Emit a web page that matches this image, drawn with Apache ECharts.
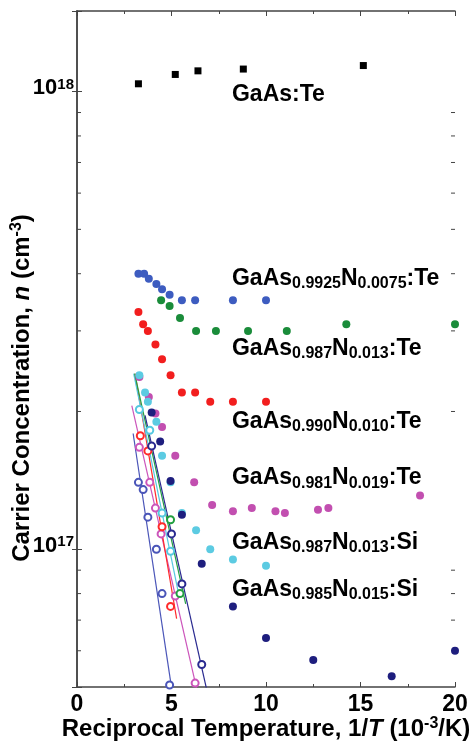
<!DOCTYPE html>
<html>
<head>
<meta charset="utf-8">
<script src="https://cdn.jsdelivr.net/npm/echarts@6/dist/echarts.min.js"></script>
<style>
  html, body { margin: 0; padding: 0; background: #fff; }
  #main { width: 473px; height: 744px; }
</style>
</head>
<body>
<div id="main"></div>
<script>
// GaAs:Te (squares)
const gaasTeX = [3.25, 5.2, 6.4, 8.8, 15.15];
const gaasTeY = [1.04e18, 1.09e18, 1.11e18, 1.12e18, 1.14e18];

// filled points, Hall data
const n0075TeX = [3.25, 3.55, 3.8, 4.2, 4.5, 4.9, 5.55, 6.25, 8.25, 10.0];
const n0075TeY = [4.0e17, 4.0e17, 3.9e17, 3.8e17, 3.7e17, 3.6e17, 3.5e17, 3.5e17, 3.5e17, 3.5e17];
const n013TeX = [4.45, 4.9, 5.45, 6.3, 7.35, 9.05, 11.1, 14.25, 20.0];
const n013TeY = [3.5e17, 3.4e17, 3.2e17, 3.0e17, 3.0e17, 3.0e17, 3.0e17, 3.1e17, 3.1e17];
const n010TeX = [3.25, 3.5, 3.75, 4.15, 4.5, 4.95, 5.55, 6.25, 7.05, 8.25, 10.0];
const n010TeY = [3.3e17, 3.1e17, 3.0e17, 2.8e17, 2.6e17, 2.4e17, 2.2e17, 2.2e17, 2.1e17, 2.1e17, 2.1e17];
const n019TeX = [3.3, 3.8, 4.15, 4.5, 5.2, 6.2, 7.15, 8.25, 9.25, 10.5, 11.0, 12.75, 13.3, 18.15];
const n019TeY = [2.38e17, 2.15e17, 1.98e17, 1.85e17, 1.6e17, 1.4e17, 1.25e17, 1.21e17, 1.23e17, 1.21e17, 1.2e17, 1.22e17, 1.23e17, 1.31e17];
const n013SiX = [3.3, 3.6, 3.75, 4.2, 4.5, 4.95, 5.55, 6.3, 7.05, 8.25, 10.0];
const n013SiY = [2.4e17, 2.2e17, 2.1e17, 1.9e17, 1.6e17, 1.4e17, 1.2e17, 1.1e17, 1.0e17, 0.95e17, 0.92e17];
const n015SiX = [3.95, 4.4, 4.95, 5.55, 6.6, 8.25, 10.0, 12.5, 16.65, 20.0];
const n015SiY = [1.99e17, 1.72e17, 1.41e17, 1.19e17, 0.93e17, 0.75e17, 0.64e17, 0.573e17, 0.528e17, 0.60e17];

// open circles + fitted lines
const fitBlueX = [3.25, 3.5, 3.75, 4.2, 4.5, 4.9];
const fitBlueY = [1.40e17, 1.35e17, 1.175e17, 1.0e17, 0.80e17, 0.505e17];
const lineBlueX = [2.97, 5.01];
const lineBlueY = [1.79e17, 4.96e16];
const fitMagentaX = [3.3, 3.85, 4.15, 4.45, 5.2, 6.25];
const fitMagentaY = [1.67e17, 1.40e17, 1.23e17, 1.08e17, 0.79e17, 0.51e17];
const lineMagentaX = [2.9, 6.33];
const lineMagentaY = [2.06e17, 4.96e16];
const fitRedX = [3.35, 3.75, 4.5, 4.95];
const fitRedY = [1.77e17, 1.64e17, 1.12e17, 0.75e17];
const lineRedX = [3.07, 5.27];
const lineRedY = [2.42e17, 7.05e16];
const fitCyanX = [3.3, 3.85, 4.5, 4.95];
const fitCyanY = [2.02e17, 1.82e17, 1.20e17, 0.99e17];
const lineCyanX = [3.0, 5.4];
const lineCyanY = [2.42e17, 7.9e16];
const fitGreenX = [4.95, 5.45];
const fitGreenY = [1.16e17, 0.80e17];
const lineGreenX = [3.05, 5.75];
const lineGreenY = [2.42e17, 7.6e16];
const fitNavyX = [3.95, 5.0, 5.55, 6.6];
const fitNavyY = [1.68e17, 1.08e17, 0.84e17, 0.56e17];
const lineNavyX = [3.6, 6.85];
const lineNavyY = [1.96e17, 4.96e16];

// annotations
const labelNames = [
  'GaAs:Te',
  'GaAs{sub|0.9925}N{sub|0.0075}:Te',
  'GaAs{sub|0.987}N{sub|0.013}:Te',
  'GaAs{sub|0.990}N{sub|0.010}:Te',
  'GaAs{sub|0.981}N{sub|0.019}:Te',
  'GaAs{sub|0.987}N{sub|0.013}:Si',
  'GaAs{sub|0.985}N{sub|0.015}:Si'
];
const labelAtX = [8.2, 8.2, 8.2, 8.2, 8.2, 8.2, 8.2];
const labelAtY = [9.85e17, 3.91e17, 2.75e17, 1.90e17, 1.43e17, 1.036e17, 8.17e16];

// axis ticks
const xMin = 0, xMax = 20, xStep = 5;
const yMin = 5e16, yMax = 1.5e18;
const yMinorTicks = [6e16, 7e16, 8e16, 9e16, 2e17, 3e17, 4e17, 5e17, 6e17, 7e17, 8e17, 9e17];

const FONT = '"Liberation Sans", Arial, sans-serif';
const zip = (xs, ys) => xs.map((x, i) => [x, ys[i]]);

function dots(data, color) {
  return { type: 'scatter', data: data, symbol: 'circle', symbolSize: 8,
    itemStyle: { color: color, opacity: 1 }, silent: true, z: 3 };
}
function openDots(data, color) {
  return { type: 'scatter', data: data, symbol: 'emptyCircle', symbolSize: 7,
    itemStyle: { color: color, borderWidth: 1.3, opacity: 1 }, silent: true, z: 4 };
}
function fitLine(data, color) {
  return { type: 'line', data: data, symbol: 'none', lineStyle: { color: color, width: 1.2 },
    silent: true, z: 2 };
}

const chart = echarts.init(document.getElementById('main'));

const axisColor = '#444';
const ink = '#000';
const option = {
  backgroundColor: '#fff',
  animation: false,
  grid: { left: 77, right: 18, top: 11, bottom: 57, containLabel: false, outerBoundsMode: 'none' },
  xAxis: [
    {
      type: 'value', min: xMin, max: xMax, interval: xStep,
      name: 'Reciprocal Temperature, 1/{i|T} (10{s|-3}/K)',
      nameLocation: 'middle', nameGap: 29, nameMoveOverlap: false,
      nameTextStyle: {
        fontFamily: FONT, fontSize: 24, fontWeight: 'bold', color: ink,
        rich: {
          i: { fontFamily: FONT, fontSize: 24, fontWeight: 'bold', fontStyle: 'italic', color: ink },
          s: { fontFamily: FONT, fontSize: 16, fontWeight: 'bold', color: ink, verticalAlign: 'top', padding: [0, 0, 10, 0] }
        }
      },
      axisLine: { lineStyle: { color: axisColor, width: 1.5 } },
      axisTick: { inside: true, length: 5, lineStyle: { color: axisColor } },
      minorTick: { show: true, splitNumber: 2, length: 3, lineStyle: { color: axisColor } },
      axisLabel: { fontFamily: FONT, fontSize: 23, fontWeight: 'bold', color: ink, margin: 6 },
      splitLine: { show: false }
    },
    {
      type: 'value', min: xMin, max: xMax, interval: xStep, position: 'top',
      axisLine: { lineStyle: { color: axisColor, width: 1.5 } },
      axisTick: { inside: true, length: 5, lineStyle: { color: axisColor } },
      minorTick: { show: true, splitNumber: 2, length: 3, lineStyle: { color: axisColor } },
      axisLabel: { show: false },
      splitLine: { show: false }
    }
  ],
  yAxis: [
    {
      type: 'log', logBase: 10, min: yMin, max: yMax,
      name: 'Carrier Concentration, {i|n} (cm{s|-3})',
      nameLocation: 'middle', nameGap: 42, nameMoveOverlap: false,
      nameTextStyle: {
        fontFamily: FONT, fontSize: 24, fontWeight: 'bold', color: ink,
        padding: [0, 78, 0, 0],
        rich: {
          i: { fontFamily: FONT, fontSize: 24, fontWeight: 'bold', fontStyle: 'italic', color: ink },
          s: { fontFamily: FONT, fontSize: 16, fontWeight: 'bold', color: ink, verticalAlign: 'top', padding: [0, 0, 10, 0] }
        }
      },
      axisLine: { lineStyle: { color: axisColor, width: 1.5 } },
      axisTick: { inside: true, length: 5, lineStyle: { color: axisColor } },
      axisLabel: {
        margin: 3, padding: [0, 0, 7, 0],
        formatter: function (v) {
          const e = Math.log10(v);
          if (Math.abs(e - Math.round(e)) > 1e-6) return '';
          return '{b|10}{s|' + Math.round(e) + '}';
        },
        rich: {
          b: { fontFamily: FONT, fontSize: 22, fontWeight: 'bold', color: ink, lineHeight: 22, verticalAlign: 'bottom' },
          s: { fontFamily: FONT, fontSize: 15, fontWeight: 'bold', color: ink, lineHeight: 15, verticalAlign: 'top', padding: [0, 0, 14, 0] }
        }
      },
      splitLine: { show: false }
    },
    {
      type: 'log', logBase: 10, min: yMin, max: yMax, position: 'right',
      axisLine: { lineStyle: { color: axisColor, width: 1.5 } },
      axisTick: { inside: true, length: 5, lineStyle: { color: axisColor } },
      axisLabel: { show: false },
      splitLine: { show: false }
    }
  ],
  series: [
    {
      type: 'custom', silent: true, z: 1,
      data: yMinorTicks.map(v => [xMin, v]),
      renderItem: function (params, api) {
        const l = api.coord([xMin, api.value(1)]);
        const r = api.coord([xMax, api.value(1)]);
        const st = { stroke: axisColor, lineWidth: 1 };
        return {
          type: 'group',
          children: [
            { type: 'line', shape: { x1: l[0], y1: l[1], x2: l[0] + 4, y2: l[1] }, style: st },
            { type: 'line', shape: { x1: r[0] - 4, y1: r[1], x2: r[0], y2: r[1] }, style: st }
          ]
        };
      }
    },
    { type: 'scatter', data: zip(gaasTeX, gaasTeY), symbol: 'rect', symbolSize: 7,
      itemStyle: { color: '#000', opacity: 1 }, silent: true, z: 3 },
    dots(zip(n0075TeX, n0075TeY), '#3d5cc0'),
    dots(zip(n013TeX, n013TeY), '#1a8c3a'),
    dots(zip(n010TeX, n010TeY), '#f21e1e'),
    dots(zip(n019TeX, n019TeY), '#c24fb0'),
    dots(zip(n013SiX, n013SiY), '#5ccbe2'),
    dots(zip(n015SiX, n015SiY), '#1e1e7e'),
    fitLine(zip(lineBlueX, lineBlueY), '#4a55b8'),
    fitLine(zip(lineMagentaX, lineMagentaY), '#cc55bb'),
    fitLine(zip(lineRedX, lineRedY), '#ff2a2a'),
    fitLine(zip(lineCyanX, lineCyanY), '#55c8e0'),
    fitLine(zip(lineGreenX, lineGreenY), '#22a040'),
    fitLine(zip(lineNavyX, lineNavyY), '#2a2a90'),
    openDots(zip(fitBlueX, fitBlueY), '#4a55b8'),
    openDots(zip(fitMagentaX, fitMagentaY), '#cc55bb'),
    openDots(zip(fitRedX, fitRedY), '#ff2a2a'),
    openDots(zip(fitCyanX, fitCyanY), '#55c8e0'),
    openDots(zip(fitGreenX, fitGreenY), '#22a040'),
    openDots(zip(fitNavyX, fitNavyY), '#2a2a90'),
    {
      type: 'scatter', silent: true, z: 5, symbolSize: 0,
      data: labelNames.map((t, i) => ({ value: [labelAtX[i], labelAtY[i]], name: t })),
      itemStyle: { opacity: 1 },
      label: {
        show: true, position: 'right', distance: 0, opacity: 1,
        formatter: p => p.name,
        fontFamily: FONT, fontSize: 23, fontWeight: 'bold', color: ink, lineHeight: 26,
        rich: {
          sub: { fontFamily: FONT, fontSize: 16, fontWeight: 'bold', color: ink, lineHeight: 12, verticalAlign: 'bottom' }
        }
      }
    }
  ]
};
chart.setOption(option);
</script>
</body>
</html>
